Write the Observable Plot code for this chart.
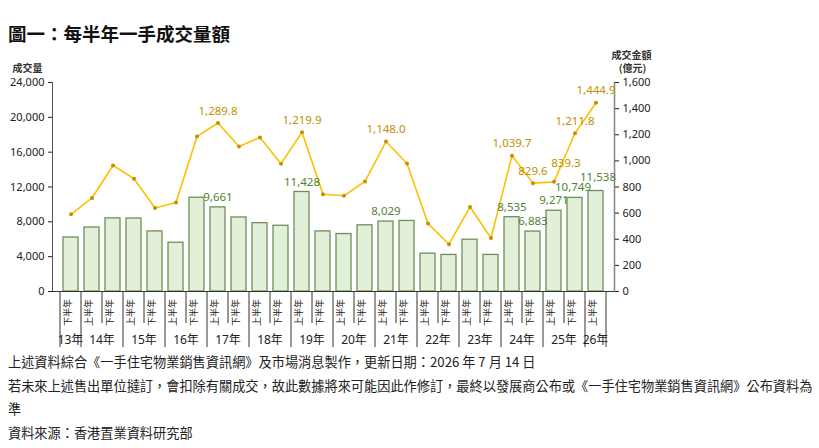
<!DOCTYPE html>
<html>
<head>
<meta charset="utf-8">
<script src="https://cdn.jsdelivr.net/npm/d3@7"></script>
<script src="https://cdn.jsdelivr.net/npm/@observablehq/plot@0.6"></script>
<style>
  html, body { margin: 0; padding: 0; background: #fff; }
  body { font-family: "Noto Sans CJK TC", "Noto Sans", sans-serif; color: #111; }
  #wrap { position: relative; width: 819px; height: 448px; overflow: hidden; }
  #title { position: absolute; left: 8px; top: 22px; height: 22px; line-height: 22px; font-size: 18.5px; font-weight: bold; white-space: nowrap; }
  #chart { position: absolute; left: 0; top: 46px; }
  #notes { position: absolute; left: 8px; top: 350px; font-size: 13.2px; line-height: 23.5px; color: #222; white-space: nowrap; }
</style>
</head>
<body>
<div id="wrap">
  <div id="title">圖一：每半年一手成交量額</div>
  <div id="chart"></div>
  <div id="notes">
    <div>上述資料綜合《一手住宅物業銷售資訊網》及市場消息製作，更新日期：2026 年 7 月 14 日</div>
    <div>若未來上述售出單位撻訂，會扣除有關成交，故此數據將來可能因此作修訂，最終以發展商公布或《一手住宅物業銷售資訊網》公布資料為<br>準</div>
    <div>資料來源：香港置業資料研究部</div>
  </div>
</div>
<script>
// ---- data ----
const years = ["13","14","14","15","15","16","16","17","17","18","18","19","19","20","20","21","21","22","22","23","23","24","24","25","25","26"];
const halves = ["下半年","上半年","下半年","上半年","下半年","上半年","下半年","上半年","下半年","上半年","下半年","上半年","下半年","上半年","下半年","上半年","下半年","上半年","下半年","上半年","下半年","上半年","下半年","上半年","下半年","上半年"];
const units = [6200, 7350, 8400, 8380, 6900, 5600, 10770, 9661, 8500, 7850, 7550, 11428, 6900, 6600, 7600, 8029, 8100, 4350, 4200, 5950, 4200, 8535, 6883, 9271, 10749, 11538];
const amounts = [591, 716, 965, 863, 639, 682, 1187, 1289.8, 1110, 1179, 978, 1219.9, 744, 733, 843, 1148.0, 980, 520, 362, 647, 410, 1039.7, 829.6, 839.3, 1211.8, 1444.9];
const labeledIdx = [7, 11, 15, 21, 22, 23, 24, 25];
const leftTicks = [0, 4000, 8000, 12000, 16000, 20000, 24000];
const rightTicks = [0, 200, 400, 600, 800, 1000, 1200, 1400, 1600];
const ratio = 15; // right axis 1,600 = left axis 24,000

const periods = years.map((y, i) => "20" + y + halves[i]);
const data = periods.map((p, i) => ({period: p, year: years[i], half: halves[i], units: units[i], amount: amounts[i], idx: i}));
const labeled = data.filter(d => labeledIdx.includes(d.idx));

const fmtInt = d3.format(",");
const fmt1 = d3.format(",.1f");

const W = 819, H = 304, ML = 52, MR = 205, MT = 36, MB = 59;
const CJK = "'Noto Sans CJK TC', sans-serif";

function xDecor(index, scales, values, dims) {
  const x = scales.x;
  const bw = x.bandwidth ? x.bandwidth() : 0;
  const step = x.step ? x.step() : (dims.width - dims.marginLeft - dims.marginRight) / periods.length;
  const y0 = dims.height - dims.marginBottom;
  const g = d3.create("svg:g");
  const sep = g.append("g").attr("stroke", "#333").attr("stroke-width", 1);
  const c0 = x(periods[0]) + bw / 2;
  sep.append("line").attr("x1", c0 - step / 2).attr("x2", c0 - step / 2).attr("y1", y0).attr("y2", y0 + 56);
  periods.forEach((p, i) => {
    const c = x(p) + bw / 2;
    const yearEnd = i === periods.length - 1 || years[i + 1] !== years[i];
    sep.append("line").attr("x1", c + step / 2).attr("x2", c + step / 2)
      .attr("y1", y0).attr("y2", y0 + (yearEnd ? 56 : 32));
  });
  const groups = d3.groups(periods.map((p, i) => ({p, y: years[i], c: x(p) + bw / 2})), d => d.y);
  const txt = g.append("g").attr("font-size", 12).attr("fill", "#222").attr("text-anchor", "middle")
    .attr("font-family", "'Noto Sans', 'Noto Sans CJK TC', sans-serif");
  groups.forEach(([yr, arr]) => {
    txt.append("text").attr("x", d3.mean(arr, d => d.c)).attr("y", y0 + 53).text(yr + "年");
  });
  return g.node();
}

const chart = Plot.plot({
  width: W, height: H,
  marginLeft: ML, marginRight: MR, marginTop: MT, marginBottom: MB,
  style: {fontFamily: "'Noto Sans', 'Noto Sans CJK TC', sans-serif", fontSize: "11px", color: "#222", background: "transparent"},
  x: {type: "band", domain: periods, paddingInner: 0.3, paddingOuter: 0.15, axis: null},
  y: {domain: [0, 24000], axis: null},
  marks: [
    Plot.barY(data, {x: "period", y: "units", fill: "#e2efd9", stroke: "#6f8f58", strokeWidth: 1.3}),
    Plot.frame({anchor: "left", stroke: "#555"}),
    Plot.frame({anchor: "right", stroke: "#8a8a8a", strokeWidth: 1.6}),
    Plot.ruleY([0], {stroke: "#333"}),
    Plot.axisY({anchor: "left", ticks: leftTicks, tickFormat: fmtInt, tickSize: 4, tickPadding: 4, label: null, fontSize: 11}),
    Plot.axisY({anchor: "right", ticks: rightTicks.map(v => v * ratio), tickFormat: d => fmtInt(d / ratio), tickSize: 4, tickPadding: 4, label: null, fontSize: 11}),
    Plot.line(data, {x: "period", y: d => d.amount * ratio, stroke: "#ffc000", strokeWidth: 1.6}),
    Plot.dot(data, {x: "period", y: d => d.amount * ratio, r: 2, fill: "#bf9000", stroke: null}),
    // line value labels
    Plot.text(labeled.filter(d => d.idx !== 23), {x: "period", y: d => d.amount * ratio, text: d => fmt1(d.amount), dy: -12, fill: "#c09000", fontSize: 11.5}),
    Plot.text(labeled.filter(d => d.idx === 23), {x: "period", y: d => d.amount * ratio, text: d => fmt1(d.amount), dx: 12, dy: -19, fill: "#c09000", fontSize: 11.5}),
    // bar value labels
    Plot.text(labeled.filter(d => d.idx < 24), {x: "period", y: "units", text: d => fmtInt(d.units), dy: -10, fill: "#548235", fontSize: 11.5}),
    Plot.text(labeled.filter(d => d.idx === 24), {x: "period", y: "units", text: d => fmtInt(d.units), dx: -2, dy: -11, fill: "#548235", fontSize: 11.5}),
    Plot.text(labeled.filter(d => d.idx === 25), {x: "period", y: "units", text: d => fmtInt(d.units), dx: 2, dy: -14, fill: "#548235", fontSize: 11.5}),
    // half-year labels (rotated)
    Plot.text(data, {x: "period", text: "half", frameAnchor: "bottom", dy: 21, rotate: -90, fontSize: 9, fill: "#222", fontFamily: CJK}),
    xDecor,
    // axis titles
    Plot.text(["成交量"], {frameAnchor: "top-left", text: d => d, textAnchor: "middle", lineAnchor: "middle", dx: -25, dy: -14, fontSize: 10, fontWeight: "bold", fill: "#333", fontFamily: CJK}),
    Plot.text(["成交金額"], {frameAnchor: "top-right", text: d => d, textAnchor: "middle", lineAnchor: "middle", dx: 17, dy: -27, fontSize: 10, fontWeight: "bold", fill: "#333", fontFamily: CJK}),
    Plot.text(["(億元)"], {frameAnchor: "top-right", text: d => d, textAnchor: "middle", lineAnchor: "middle", dx: 18, dy: -14, fontSize: 10, fontWeight: "bold", fill: "#333", fontFamily: CJK})
  ]
});
document.getElementById("chart").appendChild(chart);
</script>
</body>
</html>
